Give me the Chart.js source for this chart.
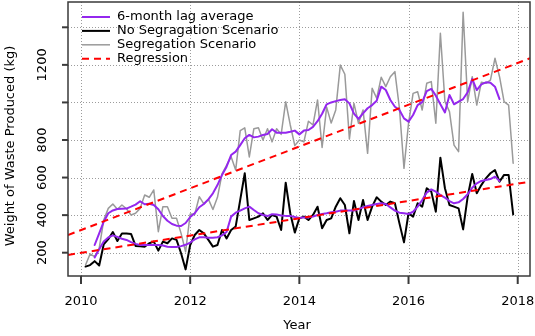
<!DOCTYPE html>
<html>
<head>
<meta charset="utf-8">
<script src="https://cdn.jsdelivr.net/npm/chart.js@4"></script>
<style>
  html, body { margin: 0; padding: 0; background: #fff; }
  canvas { display: block; }
</style>
</head>
<body>
<canvas id="myChart" width="535" height="336"></canvas>
<script>
// monthly data, Feb 2010 .. Dec 2017
var months = [];
for (let k = 0; k < 95; k++) {
  months.push(2010 + (k + 1) / 12);
}

const noSeg = [
  126,134,155,132,245,272,310,262,302,302,
  300,236,234,232,250,259,211,259,250,276,
  268,197,111,241,294,321,303,268,232,241,
  321,276,321,339,481,623,374,383,392,410,
  374,401,392,321,573,410,307,383,392,374,
  401,445,330,374,383,445,490,454,303,475,
  374,481,374,445,495,472,454,472,463,356,
  255,410,392,463,445,543,525,418,706,543,
  454,445,436,324,498,619,516,560,596,623,
  640,578,614,614,404
];

const seg = [
  134,193,179,223,374,436,459,431,454,434,
  401,410,436,507,495,534,312,445,445,383,
  383,303,205,406,405,498,460,485,430,495,
  620,665,711,640,850,865,710,860,865,800,
  860,790,860,830,1004,880,770,800,790,900,
  880,1013,760,975,890,960,1199,1150,805,995,
  889,960,729,1075,1022,1134,1084,1137,1164,969,
  649,889,1048,1057,960,1102,1111,889,1368,1004,
  951,773,738,1480,1004,1137,986,1107,1102,1119,
  1235,1137,1004,986,676
];

// 6-month lag averages (no value for first 2 / last 3 months)
const lagSeg = [null, null,
  241,303,365,410,425,433,434,435,445,456,
  474,458,461,454,431,395,370,353,344,342,
  358,390,410,442,459,484,516,560,614,658,
  720,738,773,809,827,814,818,827,832,857,
  839,839,839,844,850,830,850,853,870,900,
  940,990,1000,1007,1013,1017,995,940,912,942,
  969,986,1009,1084,1066,1013,977,960,915,898,
  933,986,1002,1060,1072,1036,990,947,1040,990,
  1004,1018,1054,1125,1066,1096,1107,1105,1084,1018,
  null, null, null];

const lagNoSeg = [null, null,
  175,218,259,281,292,284,274,268,256,247,
  241,241,241,241,241,238,232,230,230,235,
  242,254,271,282,282,280,280,282,292,310,
  392,413,424,436,445,427,410,401,395,405,
  403,398,396,396,390,385,388,388,392,401,
  406,410,415,418,424,424,424,425,432,441,
  449,454,459,463,459,441,424,413,410,406,
  418,445,480,520,537,525,507,493,475,463,
  468,486,511,546,569,582,587,592,605,582,
  null, null, null];

// regression lines, values at the two ends of the x range
const regX = [2009.762, 2018.225];
const regNoSeg = [188, 578];
const regSeg = [294, 1235];

const xTicks = [2010, 2012, 2014, 2016, 2018];
const yTicks = [200, 400, 600, 800, 1000, 1200, 1400];
const yLabels = ['200', '400', '600', '800', '', '1200', ''];

const PURPLE = '#9427EE';
const FONT = '"DejaVu Sans", sans-serif';

const legendItems = [
  { text: '6-month lag average', color: PURPLE, dash: [], width: 2 },
  { text: 'No Segragation Scenario', color: '#000000', dash: [], width: 2 },
  { text: 'Segregation Scenario', color: '#9a9a9a', dash: [], width: 1.5 },
  { text: 'Regression', color: '#ff0000', dash: [7, 5], width: 2 }
];

function pts(ys, xs) {
  return ys.map((y, i) => ({ x: (xs || months)[i], y: y }));
}

function lineSet(label, ys, color, width, order, xs, dash) {
  return {
    label: label,
    data: pts(ys, xs),
    borderColor: color,
    borderWidth: width,
    borderDash: dash || [],
    borderJoinStyle: 'round',
    borderCapStyle: dash ? 'butt' : 'round',
    pointRadius: 0,
    fill: false,
    tension: 0,
    order: order
  };
}

// R style: dotted grid, box, outside ticks, rotated y labels, legend
const rStyle = {
  id: 'rStyle',
  beforeDatasetsDraw(chart) {
    const ctx = chart.ctx;
    const a = chart.chartArea;
    const xs = chart.scales.x, ys = chart.scales.y;
    ctx.save();
    ctx.strokeStyle = '#9c9c9c';
    ctx.lineWidth = 1;
    ctx.setLineDash([1, 2]);
    xTicks.forEach(v => {
      const px = Math.round(xs.getPixelForValue(v)) + 0.5;
      ctx.beginPath(); ctx.moveTo(px, a.top); ctx.lineTo(px, a.bottom); ctx.stroke();
    });
    yTicks.forEach(v => {
      const py = Math.round(ys.getPixelForValue(v)) + 0.5;
      ctx.beginPath(); ctx.moveTo(a.left, py); ctx.lineTo(a.right, py); ctx.stroke();
    });
    ctx.restore();
  },
  afterDraw(chart) {
    const ctx = chart.ctx;
    const a = chart.chartArea;
    const xs = chart.scales.x, ys = chart.scales.y;
    ctx.save();
    ctx.strokeStyle = '#3a3a3a';
    ctx.lineWidth = 1.5;
    ctx.strokeRect(a.left, a.top, a.right - a.left, a.bottom - a.top);
    ctx.lineWidth = 2;
    xTicks.forEach(v => {
      const px = xs.getPixelForValue(v);
      ctx.beginPath(); ctx.moveTo(px, a.bottom); ctx.lineTo(px, a.bottom + 8); ctx.stroke();
    });
    yTicks.forEach(v => {
      const py = ys.getPixelForValue(v);
      ctx.beginPath(); ctx.moveTo(a.left, py); ctx.lineTo(a.left - 6, py); ctx.stroke();
    });

    ctx.fillStyle = '#000';
    ctx.font = '13px ' + FONT;
    ctx.textAlign = 'center';
    ctx.textBaseline = 'middle';
    xTicks.forEach(v => {
      ctx.fillText(String(v), xs.getPixelForValue(v), 302);
    });
    yTicks.forEach((v, i) => {
      if (!yLabels[i]) return;
      ctx.save();
      ctx.translate(43, ys.getPixelForValue(v));
      ctx.rotate(-Math.PI / 2);
      ctx.fillText(yLabels[i], 0, 0);
      ctx.restore();
    });
    ctx.save();
    ctx.translate(11, 146);
    ctx.rotate(-Math.PI / 2);
    ctx.fillText('Weight of Waste Produced (kg)', 0, 0);
    ctx.restore();
    ctx.fillText('Year', 297, 326);

    ctx.textAlign = 'left';
    legendItems.forEach((it, i) => {
      const y = 17 + i * 13.9;
      ctx.save();
      ctx.strokeStyle = it.color;
      ctx.lineWidth = it.width;
      ctx.setLineDash(it.dash);
      ctx.beginPath();
      ctx.moveTo(82, y);
      ctx.lineTo(110, y);
      ctx.stroke();
      ctx.restore();
      ctx.fillText(it.text, 117, y);
    });
    ctx.restore();
  }
};

const config = {
  type: 'line',
  data: {
    datasets: [
      lineSet('Regression', regSeg, '#ff0000', 2, 0, regX, [7, 5]),
      lineSet('Regression', regNoSeg, '#ff0000', 2, 0, regX, [7, 5]),
      lineSet('6-month lag average', lagSeg, PURPLE, 2, 1),
      lineSet('6-month lag average', lagNoSeg, PURPLE, 2, 1),
      lineSet('No Segragation Scenario', noSeg, '#000000', 2, 2),
      lineSet('Segregation Scenario', seg, '#9a9a9a', 1.5, 3)
    ]
  },
  options: {
    responsive: false,
    animation: false,
    devicePixelRatio: 1,
    layout: { padding: { top: 2, right: 5, left: 0, bottom: 0 } },
    plugins: { legend: { display: false }, tooltip: { enabled: false } },
    scales: {
      x: {
        type: 'linear',
        min: 2009.762,
        max: 2018.225,
        afterFit: s => { s.height = 60; },
        ticks: { display: false },
        grid: { display: false },
        border: { display: false }
      },
      y: {
        min: 75.9,
        max: 1534.7,
        afterFit: s => { s.width = 68; },
        ticks: { display: false },
        grid: { display: false },
        border: { display: false }
      }
    }
  },
  plugins: [rStyle]
};

const myChart = new Chart(document.getElementById('myChart'), config);
</script>
</body>
</html>
